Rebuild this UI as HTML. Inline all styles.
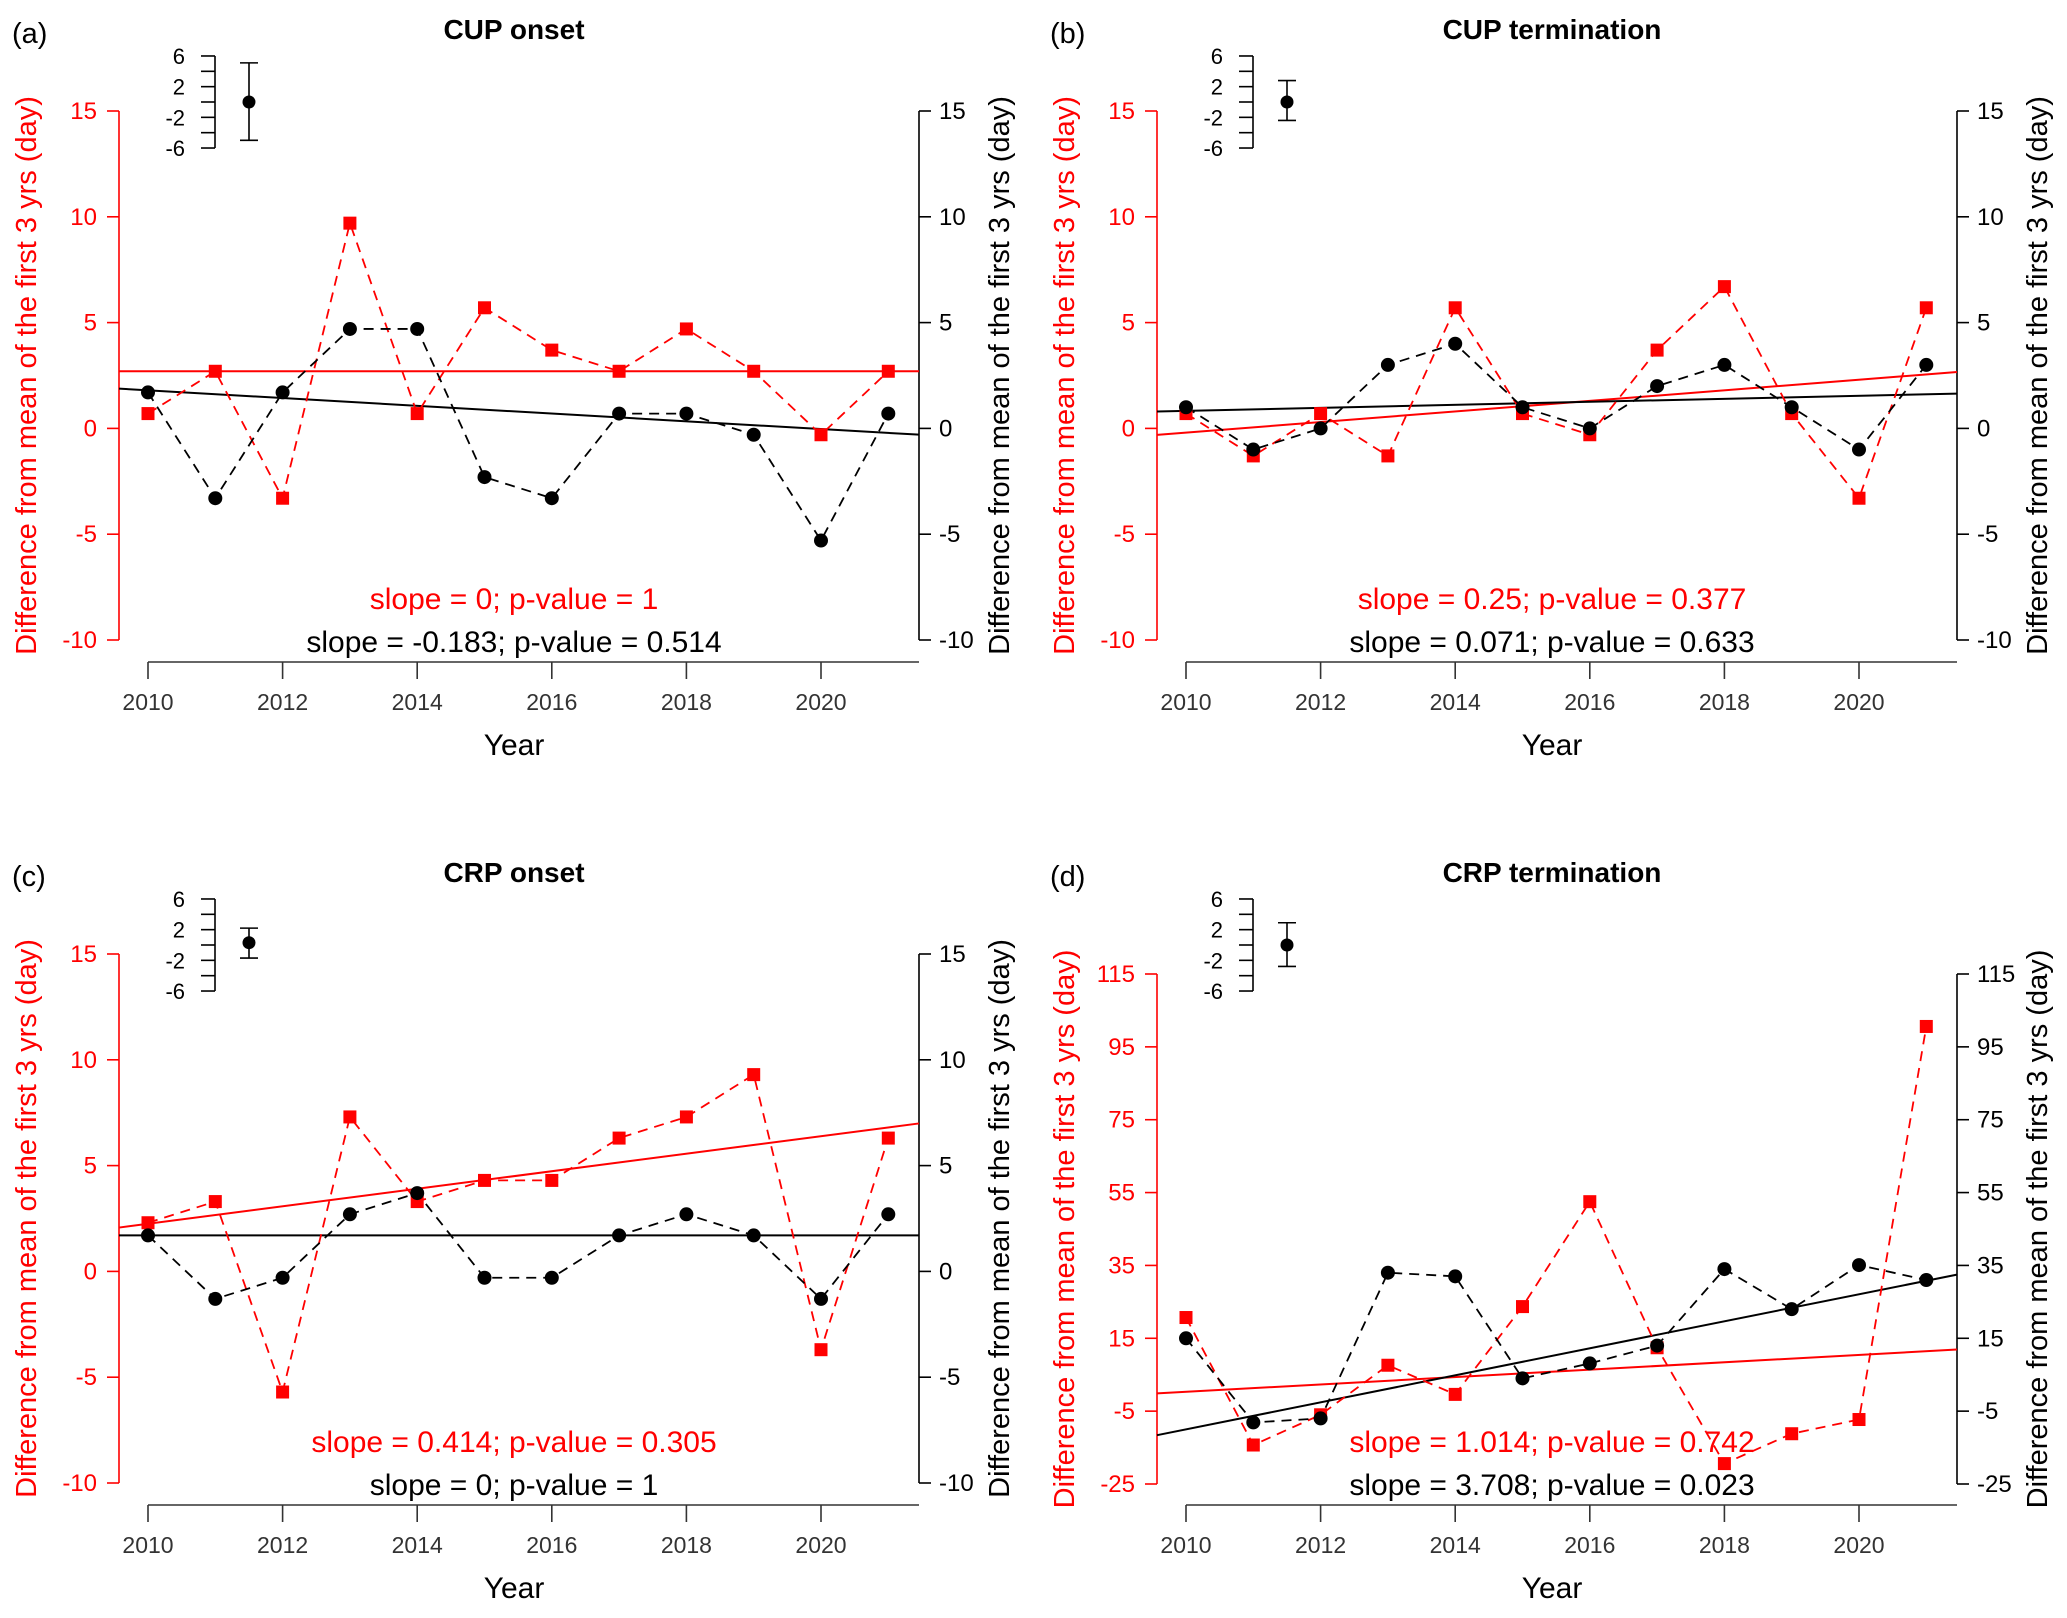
<!DOCTYPE html>
<html><head><meta charset="utf-8"><title>Phenology trend panels</title>
<style>
html,body{margin:0;padding:0;background:#fff;}
svg{display:block;font-family:"Liberation Sans",Arial,sans-serif;}
</style></head>
<body>
<svg id="chart" width="2067" height="1618" viewBox="0 0 2067 1618" xmlns="http://www.w3.org/2000/svg"></svg>
<script>
const years=[2010,2011,2012,2013,2014,2015,2016,2017,2018,2019,2020,2021];
const xTickYears=[2010,2012,2014,2016,2018,2020];
const panelLabels=["(a)","(b)","(c)","(d)"];
const panelTitles=["CUP onset","CUP termination","CRP onset","CRP termination"];
const redA=[0.7,2.7,-3.3,9.7,0.7,5.7,3.7,2.7,4.7,2.7,-0.3,2.7];
const blackA=[1.7,-3.3,1.7,4.7,4.7,-2.3,-3.3,0.7,0.7,-0.3,-5.3,0.7];
const redB=[0.7,-1.3,0.7,-1.3,5.7,0.7,-0.3,3.7,6.7,0.7,-3.3,5.7];
const blackB=[1.0,-1.0,0,3.0,4.0,1.0,0,2.0,3.0,1.0,-1.0,3.0];
const redC=[2.3,3.3,-5.7,7.3,3.3,4.3,4.3,6.3,7.3,9.3,-3.7,6.3];
const blackC=[1.7,-1.3,-0.3,2.7,3.7,-0.3,-0.3,1.7,2.7,1.7,-1.3,2.7];
const redD=[20.7,-14.3,-6.0,7.6,-0.4,23.7,52.5,12.4,-19.4,-11.2,-7.3,100.6];
const blackD=[15.0,-8.1,-7.0,33.0,32.0,4.0,8.1,13.0,34.0,23.0,35.1,31.0];
const redSlopes=[0,0.25,0.414,1.014];
const redAt2010=[2.7,-0.2,2.25,0.3];
const blackSlopes=[-0.183,0.071,0,3.708];
const blackAt2010=[1.8,0.83,1.7,-10.0];
const redTexts=["slope = 0; p-value = 1","slope = 0.25; p-value = 0.377","slope = 0.414; p-value = 0.305","slope = 1.014; p-value = 0.742"];
const blackTexts=["slope = -0.183; p-value = 0.514","slope = 0.071; p-value = 0.633","slope = 0; p-value = 1","slope = 3.708; p-value = 0.023"];
const yTicksA=[-10,-5,0,5,10,15];
const yTicksD=[-25,-5,15,35,55,75,95,115];
const errMid=[0,0,0.3,0];
const errHi=[5.1,2.8,2.2,2.9];
const errLo=[-5.0,-2.4,-1.7,-2.8];
const insetTicks=[6,4,2,0,-2,-4,-6];
const insetLabels=[6,2,-2,-6];

const NS="http://www.w3.org/2000/svg";
const svg=document.getElementById('chart');
function mk(tag,attrs,parent,text){const e=document.createElementNS(NS,tag);for(const k in attrs)e.setAttribute(k,attrs[k]);if(text!==undefined)e.textContent=text;(parent||svg).appendChild(e);return e;}

const panels=[
 {ox:0,oy:0,red:redA,black:blackA,ticks:yTicksA,tTop:15,tBot:-10,pTop:111,pBot:640},
 {ox:1038,oy:0,red:redB,black:blackB,ticks:yTicksA,tTop:15,tBot:-10,pTop:111,pBot:640},
 {ox:0,oy:843,red:redC,black:blackC,ticks:yTicksA,tTop:15,tBot:-10,pTop:111,pBot:640},
 {ox:1038,oy:843,red:redD,black:blackD,ticks:yTicksD,tTop:115,tBot:-25,pTop:131,pBot:641}
];
const CX=514;

panels.forEach((p,i)=>{
 const g=mk('g',{transform:`translate(${p.ox},${p.oy})`});
 
 
 const xs=yr=>148+(yr-2010)*67.3;
 const ys=v=>p.pTop+(p.tTop-v)*(p.pBot-p.pTop)/(p.tTop-p.tBot);
 const L=119,R=919;
 let t=mk('text',{x:12,y:43,'font-size':29,fill:'#000'},g,panelLabels[i]);
 
 t=mk('text',{x:CX,y:39,'font-size':28,'font-weight':'bold','text-anchor':'middle',fill:'#000'},g,panelTitles[i]);
 
 const la=mk('g',{},g);
 mk('line',{x1:L,x2:L,y1:ys(p.tTop),y2:ys(p.tBot),stroke:'#f00','stroke-width':1.6},la);
 p.ticks.forEach(v=>{mk('line',{x1:L-12,x2:L,y1:ys(v),y2:ys(v),stroke:'#f00','stroke-width':1.6},la);
  const tt=mk('text',{x:L-22,y:ys(v)+8,'font-size':24,'text-anchor':'end',fill:'#f00'},la,String(v));
  });
 const ra=mk('g',{},g);
 mk('line',{x1:R,x2:R,y1:ys(p.tTop),y2:ys(p.tBot),stroke:'#000','stroke-width':1.6},ra);
 p.ticks.forEach(v=>{mk('line',{x1:R,x2:R+12,y1:ys(v),y2:ys(v),stroke:'#000','stroke-width':1.6},ra);
  const tt=mk('text',{x:R+20,y:ys(v)+8,'font-size':24,fill:'#000'},ra,String(v));
  });
 const cy=(ys(p.tTop)+ys(p.tBot))/2;
 t=mk('text',{x:0,y:0,'font-size':29,'text-anchor':'middle',fill:'#f00',transform:`translate(36,${cy}) rotate(-90)`},g,'Difference from mean of the first 3 yrs (day)');
 
 t=mk('text',{x:0,y:0,'font-size':29,'text-anchor':'middle',fill:'#000',transform:`translate(1009,${cy}) rotate(-90)`},g,'Difference from mean of the first 3 yrs (day)');
 
 const xa=mk('g',{},g);
 mk('line',{x1:148,x2:R,y1:662,y2:662,stroke:'#333','stroke-width':1.6},xa);
 xTickYears.forEach(yv=>{mk('line',{x1:xs(yv),x2:xs(yv),y1:662,y2:679,stroke:'#333','stroke-width':1.6},xa);
  const tt=mk('text',{x:xs(yv),y:710,'font-size':23,'text-anchor':'middle',fill:'#333'},xa,String(yv));
  });
 t=mk('text',{x:CX,y:755,'font-size':30,'text-anchor':'middle',fill:'#000'},g,'Year');
 
 const ig=mk('g',{},g);
 const iy=v=>102-v*7.67, ix=215, bx=249;
 mk('line',{x1:ix,x2:ix,y1:iy(6),y2:iy(-6),stroke:'#000','stroke-width':1.6},ig);
 insetTicks.forEach(v=>mk('line',{x1:ix-14,x2:ix,y1:iy(v),y2:iy(v),stroke:'#000','stroke-width':1.6},ig));
 insetLabels.forEach(v=>{const tt=mk('text',{x:ix-30,y:iy(v)+8,'font-size':22,'text-anchor':'end',fill:'#000'},ig,String(v));
  });
 mk('line',{x1:bx,x2:bx,y1:iy(errHi[i]),y2:iy(errLo[i]),stroke:'#000','stroke-width':1.6},ig);
 mk('line',{x1:bx-9,x2:bx+9,y1:iy(errHi[i]),y2:iy(errHi[i]),stroke:'#000','stroke-width':1.6},ig);
 mk('line',{x1:bx-9,x2:bx+9,y1:iy(errLo[i]),y2:iy(errLo[i]),stroke:'#000','stroke-width':1.6},ig);
 mk('circle',{cx:bx,cy:iy(errMid[i]),r:6.5,fill:'#000'},ig);
 const yrL=2010+(L-148)/67.3, yrR=2010+(R-148)/67.3;
 let ln=mk('line',{x1:L,x2:R,y1:ys(redAt2010[i]+redSlopes[i]*(yrL-2010)),y2:ys(redAt2010[i]+redSlopes[i]*(yrR-2010)),stroke:'#f00','stroke-width':2},g);
 
 ln=mk('line',{x1:L,x2:R,y1:ys(blackAt2010[i]+blackSlopes[i]*(yrL-2010)),y2:ys(blackAt2010[i]+blackSlopes[i]*(yrR-2010)),stroke:'#000','stroke-width':2},g);
 
 let pl=mk('polyline',{points:years.map((y,k)=>xs(y)+','+ys(p.red[k])).join(' '),fill:'none',stroke:'#f00','stroke-width':1.8,'stroke-dasharray':'10,7'},g);
 
 pl=mk('polyline',{points:years.map((y,k)=>xs(y)+','+ys(p.black[k])).join(' '),fill:'none',stroke:'#000','stroke-width':1.8,'stroke-dasharray':'10,7'},g);
 
 years.forEach((y,k)=>{
  const s=mk('rect',{x:xs(y)-6.5,y:ys(p.red[k])-6.5,width:13,height:13,fill:'#f00'},g);
  
  const c=mk('circle',{cx:xs(y),cy:ys(p.black[k]),r:7,fill:'#000'},g);
  
 });
 t=mk('text',{x:CX,y:609,'font-size':30,'text-anchor':'middle',fill:'#f00'},g,redTexts[i]);
 
 t=mk('text',{x:CX,y:652,'font-size':30,'text-anchor':'middle',fill:'#000'},g,blackTexts[i]);
 
});
</script>
</body></html>
